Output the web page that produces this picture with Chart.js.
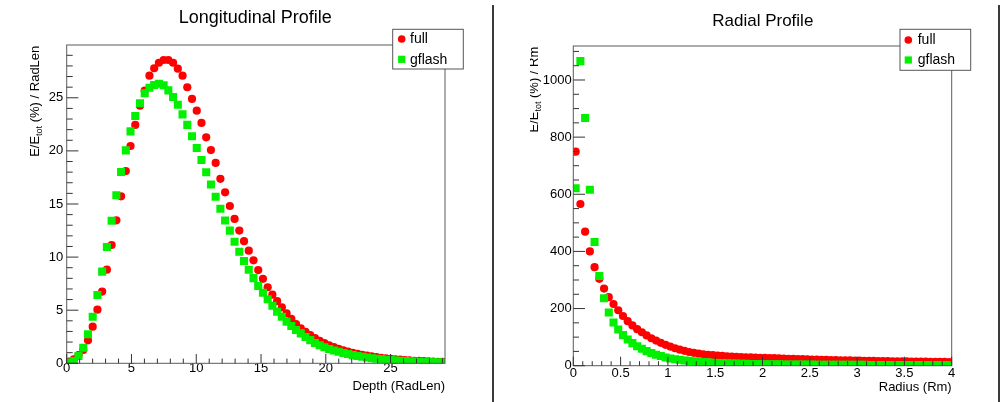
<!DOCTYPE html>
<html>
<head>
<meta charset="utf-8">
<script src="https://cdn.jsdelivr.net/npm/chart.js@4.4.1/dist/chart.umd.min.js"></script>
<style>
  html, body { margin: 0; padding: 0; background: #fff; width: 1002px; height: 402px; overflow: hidden; }
  #longCanvas { position: absolute; left: 0; top: 0; width: 500px; height: 402px; }
  #radCanvas { position: absolute; left: 500px; top: 0; width: 502px; height: 402px; }
  .sep { position: absolute; top: 5px; width: 2px; height: 397px; background: #3a3a3a; }
</style>
</head>
<body>
<canvas id="longCanvas" width="500" height="402"></canvas>
<canvas id="radCanvas" width="502" height="402"></canvas>
<div class="sep" style="left:492px"></div>
<div class="sep" style="left:998px"></div>
<script>
// ---- Longitudinal profile: 80 depth bins, E/Etot (%) per radiation length ----
const depthBinWidth = 0.365;
const depthMax = 29.2;
const depthFull = [
  0.15, 0.37, 0.78, 1.25, 2.16, 3.45, 5.05, 6.75, 8.82, 11.14,
  13.46, 15.72, 18.10, 20.46, 22.44, 24.26, 25.67, 27.08, 27.78, 28.30,
  28.56, 28.56, 28.30, 27.74, 27.08, 25.99, 24.89, 23.79, 22.63, 21.28,
  20.08, 18.87, 17.37, 16.10, 14.81, 13.59, 12.50, 11.50, 10.60, 9.70,
  8.78, 7.95, 7.16, 6.46, 5.85, 5.27, 4.71, 4.18, 3.70, 3.30,
  2.95, 2.65, 2.38, 2.12, 1.90, 1.70, 1.52, 1.36, 1.22, 1.10,
  0.99, 0.89, 0.80, 0.72, 0.65, 0.58, 0.52, 0.47, 0.42, 0.38,
  0.34, 0.30, 0.27, 0.24, 0.22, 0.20, 0.18, 0.16, 0.14, 0.13
];
const depthGflash = [
  0.08, 0.22, 0.69, 1.47, 2.73, 4.39, 6.43, 8.63, 10.95, 13.43,
  15.82, 18.01, 20.05, 21.84, 23.29, 24.48, 25.42, 25.95, 26.20, 26.33,
  26.18, 25.70, 25.08, 24.35, 23.44, 22.45, 21.38, 20.27, 19.15, 17.99,
  16.84, 15.69, 14.56, 13.45, 12.49, 11.45, 10.51, 9.63, 8.80, 8.02,
  7.28, 6.65, 6.03, 5.42, 4.86, 4.39, 3.92, 3.51, 3.14, 2.82,
  2.48, 2.18, 1.92, 1.70, 1.51, 1.35, 1.21, 1.08, 0.97, 0.87,
  0.77, 0.69, 0.61, 0.54, 0.48, 0.43, 0.38, 0.34, 0.30, 0.27,
  0.24, 0.21, 0.19, 0.17, 0.15, 0.13, 0.12, 0.10, 0.09, 0.08
];
const depthTicks = [0, 5, 10, 15, 20, 25];
const depthValueTicks = [0, 5, 10, 15, 20, 25];

// ---- Radial profile: 80 radius bins, E/Etot (%) per Moliere radius ----
const radiusBinWidth = 0.05;
const radiusMax = 4;
const radiusFull = [
  749, 566, 469, 400, 345, 304, 270, 240, 216, 194,
  174, 156, 141, 128, 117, 106, 96, 88, 80, 73,
  67, 61, 56, 52, 48, 45, 42, 40, 38.3, 36.8,
  35.4, 34.1, 33, 32, 31.1, 30.3, 29.6, 29, 28.4, 27.9,
  27.4, 26.8, 26.2, 25.6, 25, 24.4, 23.8, 23.2, 22.7, 22.2,
  21.7, 21.2, 20.7, 20.2, 19.8, 19.4, 19, 18.6, 18.3, 18,
  17.7, 17.4, 17.1, 16.8, 16.5, 16.2, 15.9, 15.6, 15.3, 15.1,
  14.9, 14.6, 14.4, 14.2, 14, 13.8, 13.6, 13.4, 13.2, 13
];
const radiusGflash = [
  621, 1066, 867, 616, 433, 314, 236, 186, 151, 127,
  107, 92, 79, 68, 59, 51, 44.5, 38.5, 34, 29,
  25.5, 22.5, 20.5, 18.5, 16.8, 15.2, 13.8, 12.6, 11.5, 10.5,
  9.6, 8.9, 8.3, 7.8, 7.3, 6.9, 6.5, 6.1, 5.8, 5.5,
  5.3, 5.1, 4.9, 4.7, 4.5, 4.3, 4.2, 4.0, 3.9, 3.8,
  3.7, 3.6, 3.5, 3.4, 3.3, 3.2, 3.1, 3.0, 2.95, 2.9,
  2.85, 2.8, 2.75, 2.7, 2.65, 2.6, 2.55, 2.5, 2.45, 2.4,
  2.35, 2.3, 2.25, 2.2, 2.15, 2.1, 2.05, 2.0, 1.95, 1.9
];
const radiusTicks = [0, 0.5, 1, 1.5, 2, 2.5, 3, 3.5, 4];
const radiusValueTicks = [0, 200, 400, 600, 800, 1000];

const FONT = '"Liberation Sans", Arial, Helvetica, sans-serif';
const RED = '#ff0000';
const GREEN = '#00f000';

// histogram bin centres paired with bin contents
function binPoints(values, width) {
  return values.map((v, i) => ({ x: (i + 0.5) * width, y: v }));
}

// ROOT-style frame: full box plus inward major/minor tick marks, drawn over the markers
const rootFrame = {
  id: 'rootFrame',
  afterDatasetsDraw(chart, args, o) {
    const { ctx, chartArea: a } = chart;
    const xs = chart.scales.x, ys = chart.scales.y;
    ctx.save();
    ctx.strokeStyle = '#5a5a5a';
    ctx.lineWidth = 1;
    ctx.strokeRect(a.left, a.top, a.right - a.left, a.bottom - a.top);
    ctx.strokeStyle = '#333';
    ctx.beginPath();
    const isMajor = (v, list) => list.some(t => Math.abs(t - v) < 1e-6);
    const nx = Math.round(xs.max / o.xMinor);
    for (let k = 0; k <= nx; k++) {
      const v = k * o.xMinor;
      const px = xs.getPixelForValue(v);
      const len = isMajor(v, o.xMajor) ? o.xLen[0] : o.xLen[1];
      ctx.moveTo(px, a.bottom);
      ctx.lineTo(px, a.bottom - len);
    }
    const ny = Math.floor(ys.max / o.yMinor + 1e-6);
    for (let k = 0; k <= ny; k++) {
      const v = k * o.yMinor;
      const py = ys.getPixelForValue(v);
      const len = isMajor(v, o.yMajor) ? o.yLen[0] : o.yLen[1];
      ctx.moveTo(a.left, py);
      ctx.lineTo(a.left + len, py);
    }
    ctx.stroke();
    ctx.restore();
  },
  afterDraw(chart, args, o) {
    const ctx = chart.ctx;
    ctx.save();
    ctx.fillStyle = '#000';
    // pad title
    ctx.font = o.titleSize + 'px ' + FONT;
    ctx.textAlign = 'center';
    ctx.textBaseline = 'alphabetic';
    ctx.fillText(o.title, o.titleX, o.titleY);
    // x-axis title, right aligned at the end of the axis
    ctx.font = '13px ' + FONT;
    ctx.textAlign = 'right';
    ctx.fillText(o.xTitle, chart.chartArea.right, o.xTitleY);
    ctx.restore();

    // y-axis title with subscript, reading upward, ending at the axis top
    ctx.save();
    if (o.yClip != null) {
      ctx.beginPath();
      ctx.rect(o.yClip, 0, chart.width, chart.height);
      ctx.clip();
    }
    ctx.translate(o.yTitleX, o.yTitleTop);
    ctx.rotate(-Math.PI / 2);
    ctx.fillStyle = '#000';
    ctx.textAlign = 'left';
    ctx.textBaseline = 'alphabetic';
    const big = '13px ' + FONT, small = '9px ' + FONT;
    ctx.font = big;
    const w1 = ctx.measureText('E/E').width;
    const w3 = ctx.measureText(o.yRest).width;
    ctx.font = small;
    const w2 = ctx.measureText('tot').width;
    const x0 = -(w1 + w2 + w3);
    ctx.font = big; ctx.fillText('E/E', x0, 0);
    ctx.font = small; ctx.fillText('tot', x0 + w1, 3);
    ctx.font = big; ctx.fillText(o.yRest, x0 + w1 + w2, 0);
    ctx.restore();

    // legend box
    const b = o.legend;
    ctx.save();
    ctx.fillStyle = '#fff';
    ctx.fillRect(b.x, b.y, b.w, b.h);
    ctx.strokeStyle = '#555';
    ctx.lineWidth = 1;
    ctx.strokeRect(b.x, b.y, b.w, b.h);
    chart.data.datasets.forEach((ds, i) => {
      const cy = b.rows[i];
      ctx.fillStyle = ds.backgroundColor;
      ctx.beginPath();
      if (ds.pointStyle === 'rect') {
        ctx.rect(b.mx - 3.6, cy - 3.6, 7.2, 7.2);
      } else {
        ctx.arc(b.mx, cy, 3.8, 0, Math.PI * 2);
      }
      ctx.fill();
      ctx.fillStyle = '#000';
      ctx.font = '14px ' + FONT;
      ctx.textAlign = 'left';
      ctx.textBaseline = 'middle';
      ctx.fillText(ds.label, b.tx, cy + 0.5);
    });
    ctx.restore();
  }
};

function makeChart(canvasId, cfg) {
  return new Chart(document.getElementById(canvasId), {
    type: 'scatter',
    data: {
      datasets: [
        { label: 'full', data: binPoints(cfg.full, cfg.binWidth), pointStyle: 'circle',
          pointRadius: 4.1, backgroundColor: RED, borderWidth: 0, order: 1 },
        { label: 'gflash', data: binPoints(cfg.gflash, cfg.binWidth), pointStyle: 'rect',
          pointRadius: 5.7, backgroundColor: GREEN, borderWidth: 0, order: 0 }
      ]
    },
    options: {
      responsive: false,
      animation: false,
      events: [],
      layout: { padding: { top: cfg.padTop, right: cfg.padRight, left: 0, bottom: 0 } },
      scales: {
        x: {
          type: 'linear', min: 0, max: cfg.xMax,
          grid: { display: false, drawTicks: false },
          border: { display: false },
          afterFit(s) { s.height = cfg.xHeight; },
          afterBuildTicks(s) { s.ticks = cfg.xTicks.map(v => ({ value: v })); },
          ticks: { color: '#000', padding: cfg.xPad, maxRotation: 0, autoSkip: false,
                   font: { family: FONT, size: 13, lineHeight: 1 },
                   callback: v => String(v) }
        },
        y: {
          type: 'linear', min: 0, max: cfg.yMax,
          grid: { display: false, drawTicks: false },
          border: { display: false },
          afterFit(s) { s.width = cfg.yWidth; },
          afterBuildTicks(s) { s.ticks = cfg.yTicks.map(v => ({ value: v })); },
          ticks: { color: '#000', padding: cfg.yPad, autoSkip: false,
                   font: { family: FONT, size: 13, lineHeight: 1 },
                   callback: v => String(v) }
        }
      },
      plugins: {
        legend: { display: false },
        tooltip: { enabled: false },
        rootFrame: cfg.frame
      }
    },
    plugins: [rootFrame]
  });
}

makeChart('longCanvas', {
  full: depthFull, gflash: depthGflash, binWidth: depthBinWidth,
  xMax: depthMax, yMax: 29.97, xTicks: depthTicks, yTicks: depthValueTicks,
  padTop: 45, padRight: 55, xHeight: 38.7, yWidth: 66.7, xPad: -1.5, yPad: 3.4,
  frame: {
    xMinor: 1, xMajor: depthTicks, xLen: [9.3, 4.7],
    yMinor: 1, yMajor: depthValueTicks, yLen: [11.7, 6],
    title: 'Longitudinal Profile', titleSize: 18, titleX: 255.2, titleY: 23,
    xTitle: 'Depth (RadLen)', xTitleY: 389.5,
    yRest: ' (%) / RadLen', yTitleX: 38.7, yTitleTop: 45.7, yClip: null,
    legend: { x: 392.7, y: 29.3, w: 70.6, h: 39.7, mx: 401.7, tx: 410, rows: [39, 59.3] }
  }
});

makeChart('radCanvas', {
  full: radiusFull, gflash: radiusGflash, binWidth: radiusBinWidth,
  xMax: radiusMax, yMax: 1119, xTicks: radiusTicks, yTicks: radiusValueTicks,
  padTop: 46, padRight: 50.3, xHeight: 36.3, yWidth: 73.3, xPad: 1.1, yPad: 1.6,
  frame: {
    xMinor: 0.1, xMajor: radiusTicks, xLen: [9, 4.5],
    yMinor: 50, yMajor: radiusValueTicks, yLen: [11.7, 5.7],
    title: 'Radial Profile', titleSize: 17, titleX: 262.8, titleY: 26.3,
    xTitle: 'Radius (Rm)', xTitleY: 391,
    yRest: ' (%) / Rm', yTitleX: 37.5, yTitleTop: 46.7, yClip: 30,
    legend: { x: 400, y: 29.3, w: 70.7, h: 41, mx: 408.3, tx: 417.7, rows: [40, 60] }
  }
});
</script>
</body>
</html>
